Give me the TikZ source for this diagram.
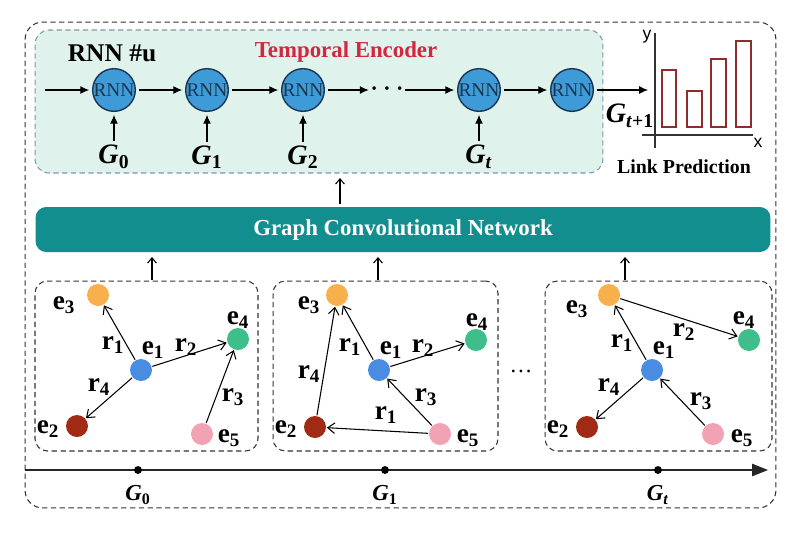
\documentclass[tikz,border=0pt]{standalone}
\usepackage{fontspec}
\setmainfont{Liberation Serif}
\newfontfamily\axisfont{Liberation Sans}
\usetikzlibrary{arrows.meta,positioning}

\definecolor{encfill}{HTML}{DFF2EC}
\definecolor{encline}{HTML}{7E97AC}
\definecolor{rnnfill}{HTML}{3E9BD8}
\definecolor{rnnline}{HTML}{1B3550}
\definecolor{gcnteal}{HTML}{128E8E}
\definecolor{encred}{HTML}{D1283F}
\definecolor{barred}{HTML}{8C2E2E}
\definecolor{entorange}{HTML}{F8B04C}
\definecolor{entblue}{HTML}{4A8CE2}
\definecolor{entgreen}{HTML}{3EBE8A}
\definecolor{entdark}{HTML}{A02A14}
\definecolor{entpink}{HTML}{F1A3B4}

\newcommand{\entlbl}[1]{e\textsubscript{#1}}
\newcommand{\rellbl}[1]{r\textsubscript{#1}}
\newcommand{\snap}[1]{\textit{G}\textsubscript{#1}}

\tikzset{
	rnn/.style={circle, draw=rnnline, thick, fill=rnnfill, minimum size=0.84cm, inner sep=0pt, outer sep=2pt, text=rnnline, font=\fontsize{11}{11}\selectfont},
	ent/.style={circle, minimum size=0.44cm, inner sep=0pt, outer sep=0.5pt},
	lbl/.style={inner sep=0pt, font=\fontsize{15.5}{15.5}\selectfont\bfseries},
	gin/.style={inner sep=2pt, font=\fontsize{16}{16}\selectfont\bfseries},
	flow/.style={-{Latex[length=5pt,width=4.5pt]}, semithick},
	rise/.style={-{Straight Barb[length=3pt,width=5pt]}, semithick},
	rel/.style={-{Straight Barb[length=4pt,width=6pt]}, semithick},
	panel/.style={draw=black!80, densely dashed, rounded corners=7pt, semithick},
	chartbar/.style={draw=barred, semithick, fill=white},
}

\begin{document}
\begin{tikzpicture}[x=0.02cm, y=-0.02cm]
	\useasboundingbox (0,0) rectangle (800,535);

	% outer frame and blocks
	\node[draw=black!80, densely dashed, rounded corners=10pt, semithick, minimum width=15.02cm, minimum height=9.72cm] (frame) at (400.5,265) {};
	\node[draw=encline, fill=encfill, densely dashed, rounded corners=8pt, semithick, minimum width=11.36cm, minimum height=2.86cm] (enc) at (319,101.5) {};
	\node[fill=gcnteal, rounded corners=6pt, minimum width=14.7cm, minimum height=0.9cm, text=white, font=\fontsize{13}{13}\selectfont\bfseries] (gcn) at (403,229.5) {Graph Convolutional Network};
	\node[panel, minimum width=4.46cm, minimum height=3.4cm] (p1) at (146.5,366) {};
	\node[panel, minimum width=4.5cm, minimum height=3.4cm] (p2) at (385.5,366) {};
	\node[panel, minimum width=4.54cm, minimum height=3.4cm] (p3) at (658.5,366) {};

	% temporal encoder
	\node[font=\fontsize{14.5}{14.5}\selectfont\bfseries] (title) at (112,53) {RNN \#u};
	\node[text=encred, font=\fontsize{13}{13}\selectfont\bfseries] (enctitle) at (346,52) {Temporal Encoder};

	\node[rnn] (R1) at (114,90) {RNN};
	\node[rnn] (R2) at (207,90) {RNN};
	\node[rnn] (R3) at (303,90) {RNN};
	\node[font=\fontsize{8.5}{8.5}\selectfont, inner sep=1.5pt] (dots) at (387,90) {\textbullet\enspace\textbullet\enspace\textbullet};
	\node[rnn] (R4) at (479,90) {RNN};
	\node[rnn] (R5) at (572,90) {RNN};
	\coordinate (In) at (45,90);
	\coordinate (Out) at (648,90);

	\draw[flow] (In) -- (R1);
	\draw[flow] (R1) -- (R2);
	\draw[flow] (R2) -- (R3);
	\draw[flow] (R3) -- (dots);
	\draw[flow] (dots) -- (R4);
	\draw[flow] (R4) -- (R5);
	\draw[flow] (R5) -- (Out);

	\node[gin] (G0) at (114,157) {\snap{0}};
	\node[gin] (G1) at (207,157) {\snap{1}};
	\node[gin] (G2) at (303,157) {\snap{2}};
	\node[gin] (Gt) at (479,157) {\snap{\textit{t}}};
	\node[gin] (Gn) at (630,116) {\snap{\textit{t}+1}};

	\draw[flow] (G0) -- (R1);
	\draw[flow] (G1) -- (R2);
	\draw[flow] (G2) -- (R3);
	\draw[flow] (Gt) -- (R4);

	% link prediction chart
	\coordinate (Ya) at (655,33);
	\coordinate (Yb) at (655,148);
	\coordinate (Xa) at (642,135);
	\coordinate (Xb) at (753,135);
	\draw[semithick, black!80] (Ya) -- (Yb);
	\draw[semithick, black!80] (Xa) -- (Xb);
	\node[font=\axisfont\fontsize{10}{10}\selectfont] (ylab) at (647,37) {y};
	\node[font=\axisfont\fontsize{10}{10}\selectfont] (xlab) at (758,143) {x};
	\draw[chartbar] (662,127) rectangle (676,70);
	\draw[chartbar] (687,127) rectangle (702,91);
	\draw[chartbar] (711,127) rectangle (726,59);
	\draw[chartbar] (736,127) rectangle (751,41);
	\node[font=\fontsize{11.3}{11.3}\selectfont\bfseries] (lp) at (684,167) {Link Prediction};

	% between layers
	\coordinate (U0) at (340,204);
	\coordinate (V0) at (340,178);
	\draw[rise] (U0) -- (V0);
	\coordinate (U1) at (152,280);
	\coordinate (V1) at (152,257);
	\coordinate (U2) at (378,280);
	\coordinate (V2) at (378,257);
	\coordinate (U3) at (625,280);
	\coordinate (V3) at (625,257);
	\draw[rise] (U1) -- (V1);
	\draw[rise] (U2) -- (V2);
	\draw[rise] (U3) -- (V3);

	% snapshot G0
	\node[ent, fill=entorange] (a3) at (98,295) {};
	\node[ent, fill=entblue] (a1) at (141,370) {};
	\node[ent, fill=entgreen] (a4) at (238,339) {};
	\node[ent, fill=entdark] (a2) at (77,426) {};
	\node[ent, fill=entpink] (a5) at (202,434) {};
	\node[lbl] (la3) at (64,305) {\entlbl{3}};
	\node[lbl] (la1) at (153,350) {\entlbl{1}};
	\node[lbl] (la4) at (238,320) {\entlbl{4}};
	\node[lbl] (la2) at (48,429) {\entlbl{2}};
	\node[lbl] (la5) at (229,438) {\entlbl{5}};
	\draw[rel] (a1) -- (a3);
	\draw[rel] (a1) -- (a4);
	\draw[rel] (a1) -- (a2);
	\draw[rel] (a5) -- (a4);
	\node[lbl] (ra1) at (113,345) {\rellbl{1}};
	\node[lbl] (ra2) at (186,347) {\rellbl{2}};
	\node[lbl] (ra4) at (99,387) {\rellbl{4}};
	\node[lbl] (ra3) at (233,397) {\rellbl{3}};

	% snapshot G1
	\node[ent, fill=entorange] (b3) at (337,295) {};
	\node[ent, fill=entblue] (b1) at (379,370) {};
	\node[ent, fill=entgreen] (b4) at (476,340) {};
	\node[ent, fill=entdark] (b2) at (315,427) {};
	\node[ent, fill=entpink] (b5) at (440,434) {};
	\node[lbl] (lb3) at (309,305) {\entlbl{3}};
	\node[lbl] (lb1) at (391,350) {\entlbl{1}};
	\node[lbl] (lb4) at (477,322) {\entlbl{4}};
	\node[lbl] (lb2) at (286,429) {\entlbl{2}};
	\node[lbl] (lb5) at (468,438) {\entlbl{5}};
	\draw[rel] (b1) -- (b3);
	\draw[rel] (b1) -- (b4);
	\draw[rel] (b5) -- (b1);
	\draw[rel] (b5) -- (b2);
	\draw[rel] (b2) -- (b3);
	\node[lbl] (rb1) at (350,347) {\rellbl{1}};
	\node[lbl] (rb2) at (423,348) {\rellbl{2}};
	\node[lbl] (rb3) at (426,397) {\rellbl{3}};
	\node[lbl] (rb5) at (386,415) {\rellbl{1}};
	\node[lbl] (rb4) at (309,374) {\rellbl{4}};

	\node[font=\fontsize{13}{13}\selectfont, inner sep=0pt] (gap) at (521,371) {\dots};

	% snapshot Gt
	\node[ent, fill=entorange] (c3) at (609,295) {};
	\node[ent, fill=entblue] (c1) at (652,370) {};
	\node[ent, fill=entgreen] (c4) at (749,340) {};
	\node[ent, fill=entdark] (c2) at (587,427) {};
	\node[ent, fill=entpink] (c5) at (713,434) {};
	\node[lbl] (lc3) at (577,309) {\entlbl{3}};
	\node[lbl] (lc1) at (664,350) {\entlbl{1}};
	\node[lbl] (lc4) at (744,320) {\entlbl{4}};
	\node[lbl] (lc2) at (558,429) {\entlbl{2}};
	\node[lbl] (lc5) at (742,438) {\entlbl{5}};
	\draw[rel] (c1) -- (c3);
	\draw[rel] (c3) -- (c4);
	\draw[rel] (c1) -- (c2);
	\draw[rel] (c5) -- (c1);
	\node[lbl] (rc1) at (622,343) {\rellbl{1}};
	\node[lbl] (rc2) at (684,332) {\rellbl{2}};
	\node[lbl] (rc4) at (609,387) {\rellbl{4}};
	\node[lbl] (rc3) at (701,401) {\rellbl{3}};

	% time axis
	\coordinate (T0) at (25,470);
	\coordinate (T1) at (768,470);
	\draw[thick, black!85, -{Triangle[length=9pt,width=7pt]}] (T0) -- (T1);
	\node[circle, fill=black, inner sep=0pt, minimum size=4.5pt] (t0) at (138,470) {};
	\node[circle, fill=black, inner sep=0pt, minimum size=4.5pt] (t1) at (385,470) {};
	\node[circle, fill=black, inner sep=0pt, minimum size=4.5pt] (t2) at (658,470) {};
	\node[below=3pt of t0, font=\fontsize{13}{13}\selectfont\bfseries] (tl0) {\snap{0}};
	\node[below=3pt of t1, font=\fontsize{13}{13}\selectfont\bfseries] (tl1) {\snap{1}};
	\node[below=3pt of t2, font=\fontsize{13}{13}\selectfont\bfseries] (tl2) {\snap{\textit{t}}};
\end{tikzpicture}
\end{document}
